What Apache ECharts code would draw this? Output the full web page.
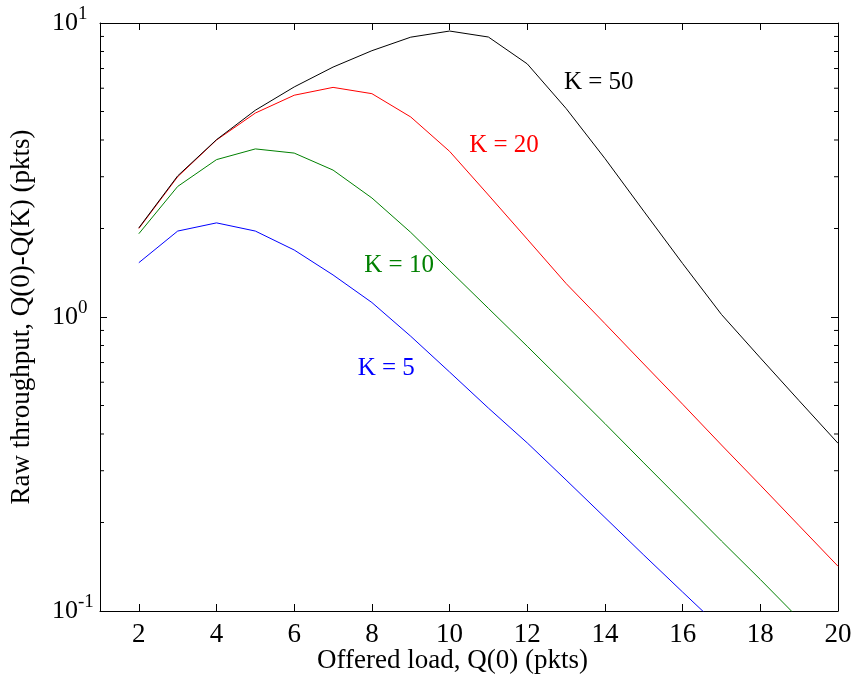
<!DOCTYPE html>
<html>
<head>
<meta charset="utf-8">
<script src="https://cdn.jsdelivr.net/npm/echarts@6/dist/echarts.min.js"></script>
<style>html,body{margin:0;padding:0;background:#fff}#c{width:855px;height:686px}</style>
</head>
<body>
<div id="c"></div>
<script>
var loads = [2,3,4,5,6,7,8,9,10,11,12,13,14,15,16,17,18,19,20];
var k50 = [2.01,3.02,4.01,5.05,6.06,7.08,8.05,8.95,9.39,8.96,7.26,5.12,3.46,2.29,1.52,1.02,0.726,0.519,0.372];
var k20 = [2.0,3.0,4.0,4.94,5.68,6.04,5.75,4.79,3.66,2.60,1.84,1.30,0.95,0.692,0.505,0.367,0.268,0.195,0.142];
var k10 = [1.92,2.78,3.43,3.73,3.61,3.16,2.54,1.94,1.44,1.07,0.795,0.588,0.434,0.319,0.235,0.173,0.128,0.094,0.069];
var k5  = [1.53,1.96,2.09,1.96,1.69,1.39,1.12,0.86,0.65,0.49,0.373,0.279,0.208,0.155,0.116,0.087];
var xTicks = [2,4,6,8,10,12,14,16,18,20];
var yMinorTicks = [0.2,0.3,0.4,0.5,0.6,0.7,0.8,0.9,2,3,4,5,6,7,8,9];
var curveLabels = [
  {text:'K = 50', color:'#000000', at:[13.84, 6.28]},
  {text:'K = 20', color:'#ff0000', at:[11.4, 3.84]},
  {text:'K = 10', color:'#008000', at:[8.70, 1.50]},
  {text:'K = 5',  color:'#0000ff', at:[8.37, 0.669]}
];
var FONT = 'Liberation Serif';

function pairs(vals){ return vals.map(function(v,i){ return [loads[i], v]; }); }
function lineSeries(vals, color, lbl){
  return {
    type:'line', data: pairs(vals), symbol:'none', clip:true,
    lineStyle:{color:color, width:1}, itemStyle:{color:color},
    animation:false, silent:true,
    markPoint:{
      symbol:'circle', symbolSize:0, silent:true, animation:false,
      data:[{coord:lbl.at}],
      label:{show:true, position:'inside', formatter:lbl.text, color:lbl.color,
             fontSize:25, fontFamily:FONT}
    }
  };
}

var chart = echarts.init(document.getElementById('c'), null, {renderer:'canvas'});
var axisLineStyle = {color:'#000', width:1};
var option = {
  backgroundColor:'#fff',
  animation:false,
  grid:{left:100, right:17, top:23, bottom:75, containLabel:false, outerBoundsMode:'none'},
  xAxis:[{
    type:'value', min:1, max:20, position:'bottom',
    axisLine:{show:true, onZero:false, lineStyle:axisLineStyle},
    axisTick:{show:true, inside:true, length:7, customValues:xTicks, lineStyle:axisLineStyle},
    axisLabel:{show:true, customValues:xTicks, margin:10, color:'#000', fontSize:27, fontFamily:FONT},
    splitLine:{show:false},
    name:''
  },{
    type:'value', min:1, max:20, position:'top',
    axisLine:{show:true, onZero:false, lineStyle:axisLineStyle},
    axisTick:{show:true, inside:true, length:7, customValues:xTicks, lineStyle:axisLineStyle},
    axisLabel:{show:false}, splitLine:{show:false}
  }],
  yAxis:[{
    type:'log', logBase:10, min:0.1, max:10, position:'left',
    axisLine:{show:true, onZero:false, lineStyle:axisLineStyle},
    axisTick:{show:true, inside:true, length:7, lineStyle:axisLineStyle},
    axisLabel:{
      show:true, align:'left', margin:48, color:'#000', fontFamily:FONT,
      formatter:function(v){
        var e = Math.round(Math.log10(v));
        return '{b|10}{s|' + e + '}';
      },
      rich:{
        b:{fontSize:26, fontFamily:FONT, color:'#000'},
        s:{fontSize:19, fontFamily:FONT, color:'#000', padding:[0,0,17,0]}
      }
    },
    splitLine:{show:false},
    name:'Raw throughput, Q(0)-Q(K) (pkts)', nameLocation:'middle', nameGap:65,
    nameTextStyle:{fontSize:27, fontFamily:FONT, color:'#000'}
  },{
    type:'log', logBase:10, min:0.1, max:10, position:'right',
    axisLine:{show:true, onZero:false, lineStyle:axisLineStyle},
    axisTick:{show:true, inside:true, length:7, lineStyle:axisLineStyle},
    axisLabel:{show:false}, splitLine:{show:false}
  }],
  graphic:[{
    type:'text', left:317, top:647,
    style:{text:'Offered load, Q(0) (pkts)', font:'27px "Liberation Serif"', fill:'#000'}
  }],
  series:[
    lineSeries(k20, '#ff0000', curveLabels[1]),
    lineSeries(k50, '#000000', curveLabels[0]),
    lineSeries(k10, '#008000', curveLabels[2]),
    lineSeries(k5,  '#0000ff', curveLabels[3]),
    {
      type:'custom', data: yMinorTicks.map(function(v){ return [1, v]; }),
      silent:true, animation:false, clip:false,
      renderItem:function(params, api){
        var v = api.value(1);
        var pL = api.coord([1, v]);
        var pR = api.coord([20, v]);
        var st = {stroke:'#000', lineWidth:1};
        return {type:'group', children:[
          {type:'line', shape:{x1:pL[0], y1:pL[1], x2:pL[0]+4, y2:pL[1]}, style:st},
          {type:'line', shape:{x1:pR[0]-4, y1:pR[1], x2:pR[0], y2:pR[1]}, style:st}
        ]};
      }
    }
  ]
};
chart.setOption(option);
</script>
</body>
</html>
